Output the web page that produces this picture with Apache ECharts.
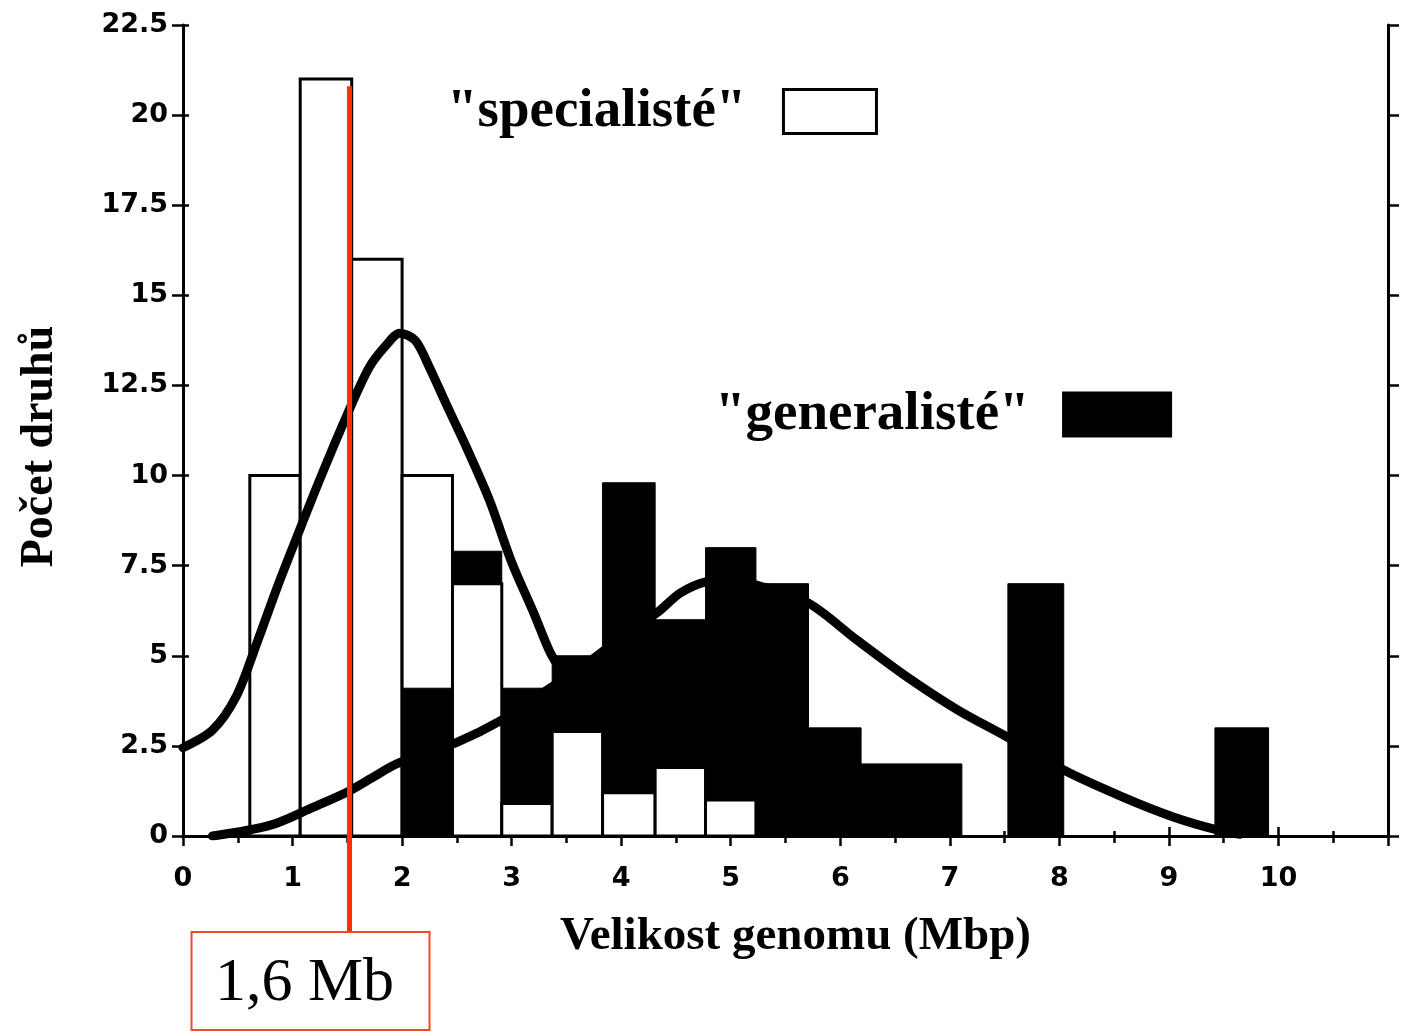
<!DOCTYPE html>
<html><head><meta charset="utf-8">
<script src="https://cdn.jsdelivr.net/npm/echarts/dist/echarts.min.js"></script>
<style>html,body{margin:0;padding:0;background:#fff}#c{width:1404px;height:1032px}</style>
</head><body><div id="c"></div>
<script>
// histogram bins (genome size, Mbp)
const binLeft  = [0.61,1.07,1.54,2.00,2.46,2.91,3.37,3.83,4.31,4.77,5.23,5.71,6.19,6.64,7.53,9.42];
const binRight = [1.07,1.54,2.00,2.46,2.91,3.37,3.83,4.31,4.77,5.23,5.71,6.19,6.64,7.11,8.04,9.91];
const specialists = [10,21,16,10,7.0,0.9,2.9,1.2,1.9,1.0,0,0,0,0,0,0];
const generalists = [0,0,0,4.1,7.9,4.1,5.0,9.8,6.0,8.0,7.0,3.0,2.0,2.0,7.0,3.0];
const generalistFront = [0,0,0,1,0,0,0,0,0,0,0,0,0,0,0,0];
// fitted curves
const specCurveX = [0,0.27,0.49,0.68,0.86,1.04,1.25,1.5,1.7,1.85,1.98,2.12,2.25,2.4,2.6,2.8,3.0,3.2,3.35,3.45];
const specCurveY = [2.45,2.94,3.9,5.4,6.9,8.3,9.9,11.7,13.0,13.6,13.95,13.75,13.0,12.0,10.7,9.3,7.6,6.2,5.1,4.6];
const genCurveX = [0.27,0.8,1.19,1.5,1.74,1.95,2.5,2.9,3.3,3.6,4.0,4.33,4.54,4.77,5.0,5.25,5.71,6.15,6.61,7.07,7.52,8.04,8.58,9.04,9.44,9.65];
const genCurveY = [0,0.3,0.8,1.22,1.64,2.0,2.6,3.2,4.0,4.6,5.5,6.2,6.74,7.05,7.1,6.95,6.46,5.44,4.41,3.5,2.75,1.83,1.08,0.53,0.17,0.05];
// annotation
const markerGenome = 1.52, markerTop = 20.8, markerLabel = '1,6 Mb';
const xMin = 0, xMax = 11, xInterval = 1, xLabelMax = 10;
const yMin = 0, yMax = 22.5, yInterval = 2.5;

const chart = echarts.init(document.getElementById('c'));
const bins = binLeft.map((l,i)=>[l, binRight[i], generalists[i], generalistFront[i]]);
const binsS = binLeft.map((l,i)=>[l, binRight[i], specialists[i], 0]);

function barRender(fill, stroke, lw, baseZ) {
  return function(params, api){
    const l = api.value(0), r = api.value(1), v = api.value(2), f = api.value(3);
    if (!v) return null;
    const p0 = api.coord([l, v]), p1 = api.coord([r, 0]);
    return {type:'rect', z2: f ? 30 : baseZ,
      shape:{x:p0[0], y:p0[1], width:p1[0]-p0[0], height:p1[1]-p0[1]},
      style:{fill:fill, stroke:stroke, lineWidth:lw}};
  };
}
const serif = 'Liberation Serif';
const axisFont = {fontFamily:'DejaVu Sans', fontWeight:'bold', fontSize:27, color:'#000'};
const lineBlack = {color:'#000', width:3};
const option = {
  animation:false,
  backgroundColor:'#fff',
  grid:{left:183, right:16, top:25, bottom:196, containLabel:false, outerBoundsMode:'none'},
  legend:[
    {data:[{name:'specialisté', icon:'rect', itemStyle:{color:'#fff', borderColor:'#000', borderWidth:3}}],
     left:447, top:84, padding:0, align:'right', itemWidth:93, itemHeight:44, selectedMode:false,
     formatter:n=>'"'+n+'"  \u200A', textStyle:{fontFamily:serif, fontWeight:'bold', fontSize:55, color:'#000'}},
    {data:[{name:'generalisté', icon:'rect', itemStyle:{color:'#000', borderColor:'#000', borderWidth:0}}],
     left:715, top:387, padding:0, align:'right', itemWidth:110, itemHeight:46, selectedMode:false,
     formatter:n=>'"'+n+'"  ', textStyle:{fontFamily:serif, fontWeight:'bold', fontSize:55, color:'#000'}}
  ],
  xAxis:[
    {type:'value', min:xMin, max:xMax, interval:xInterval, position:'bottom',
     name:'Velikost genomu (Mbp)', nameLocation:'middle', nameGap:77,
     nameTextStyle:{fontFamily:serif, fontWeight:'bold', fontSize:47, color:'#000', padding:[0,0,0,20]},
     axisLine:{lineStyle:lineBlack}, axisTick:{length:10, lineStyle:{color:'#000', width:2.5}},
     minorTick:{show:true, splitNumber:2, length:7, lineStyle:{color:'#000', width:2.5}},
     splitLine:{show:false}, minorSplitLine:{show:false},
     axisLabel:Object.assign({margin:29, formatter:v=> v<=xLabelMax ? String(v) : ''}, axisFont)},
    {type:'value', min:xMin, max:xMax, interval:xInterval, position:'top',
     axisLine:{lineStyle:lineBlack}, axisTick:{length:9, lineStyle:{color:'#000', width:2.5}},
     minorTick:{show:true, splitNumber:2, length:5, lineStyle:{color:'#000', width:2.5}},
     splitLine:{show:false}, axisLabel:{show:false}}
  ],
  yAxis:[
    {type:'value', min:yMin, max:yMax, interval:yInterval, position:'left',
     name:'Počet druhů', nameLocation:'middle', nameGap:120, nameRotate:90,
     nameTextStyle:{fontFamily:serif, fontWeight:'bold', fontSize:46, color:'#000', padding:[0,32,0,0]},
     axisLine:{lineStyle:lineBlack}, axisTick:{length:11, lineStyle:{color:'#000', width:2.5}},
     splitLine:{show:false}, axisLabel:Object.assign({margin:15}, axisFont)},
    {type:'value', min:yMin, max:yMax, interval:yInterval, position:'left',
     axisLine:{show:false}, axisTick:{inside:true, length:6, lineStyle:{color:'#000', width:2.5}},
     splitLine:{show:false}, axisLabel:{show:false}},
    {type:'value', min:yMin, max:yMax, interval:yInterval, position:'right',
     axisLine:{show:true, lineStyle:lineBlack}, axisTick:{show:true, length:11, lineStyle:{color:'#000', width:2.5}},
     splitLine:{show:false}, axisLabel:{show:false}}
  ],
  series:[
    {name:'generalisté', type:'custom', data:bins, encode:{x:[0,1], y:2},
     renderItem:barRender('#000', '#000', 1, 5), itemStyle:{color:'#000'}},
    {name:'specialisté', type:'custom', data:binsS, encode:{x:[0,1], y:2},
     renderItem:barRender('#fff', '#000', 3, 10), itemStyle:{color:'#fff'}},
    {name:'specCurve', type:'line', z:3, smooth:0.3, showSymbol:false, symbol:'none',
     data:specCurveX.map((x,i)=>[x, specCurveY[i]]),
     lineStyle:{color:'#000', width:9, cap:'round', join:'round'}},
    {name:'genCurve', type:'line', z:3, smooth:0.3, showSymbol:false, symbol:'none',
     data:genCurveX.map((x,i)=>[x, genCurveY[i]]),
     lineStyle:{color:'#000', width:9, cap:'round', join:'round'}},
    {name:'marker', type:'custom', z:4, clip:false, data:[[markerGenome, markerTop]],
     renderItem:function(params, api){
       const top = api.coord([api.value(0), api.value(1)]);
       const base = api.coord([api.value(0), 0]);
       const boxTop = base[1] + 96, boxLeft = top[0] - 158;
       return {type:'group', children:[
         {type:'line', shape:{x1:top[0], y1:top[1], x2:top[0], y2:boxTop}, style:{stroke:'#ff3000', lineWidth:5}},
         {type:'rect', shape:{x:boxLeft, y:boxTop, width:238, height:98}, style:{fill:'#fff', stroke:'#f04a2a', lineWidth:2}},
         {type:'text', x:boxLeft+113, y:boxTop+52, style:{text:markerLabel, fill:'#000', font:'62px "Liberation Serif"', align:'center', verticalAlign:'middle'}}
       ]};
     }}
  ]
};
chart.setOption(option);
</script></body></html>
